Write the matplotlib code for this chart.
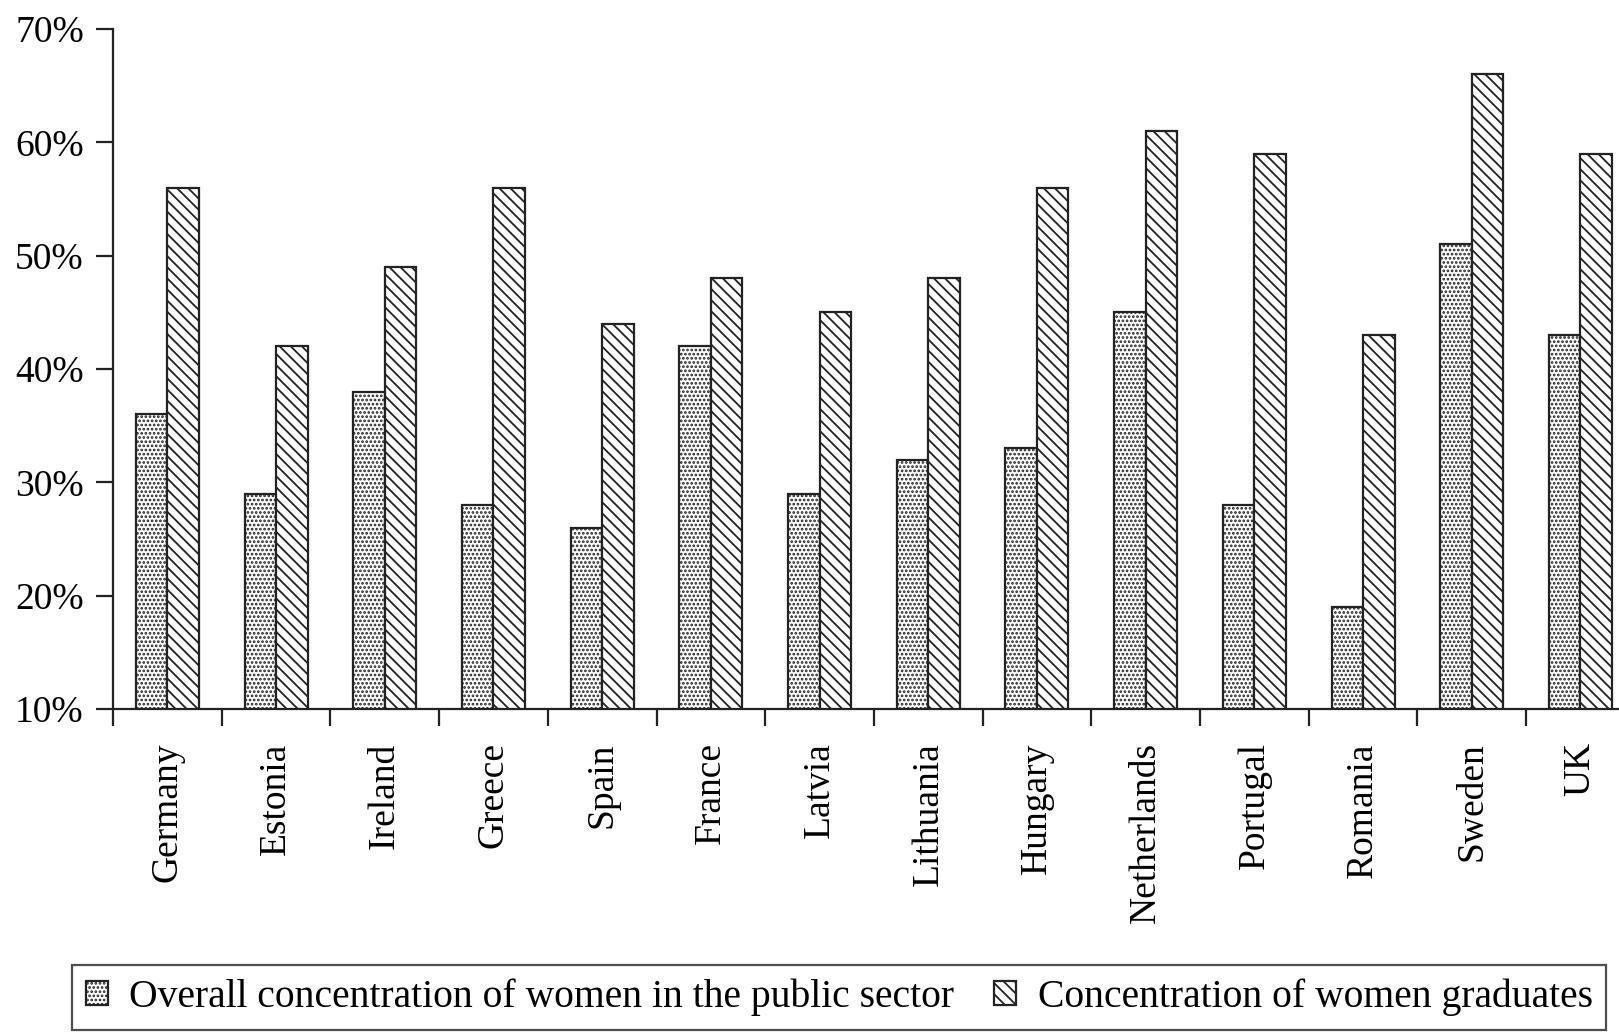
import numpy as np
import matplotlib
matplotlib.use('Agg')
import matplotlib.pyplot as plt
from matplotlib.ticker import FuncFormatter

# データ
countries = ['Germany', 'Estonia', 'Ireland', 'Greece', 'Spain', 'France', 'Latvia',
             'Lithuania', 'Hungary', 'Netherlands', 'Portugal', 'Romania', 'Sweden', 'UK']
public_sector = [36, 29, 38, 28, 26, 42, 29, 32, 33, 45, 28, 19, 51, 43]
graduates = [56, 42, 49, 56, 44, 48, 45, 48, 56, 61, 59, 43, 66, 59]
y_ticks = [10, 20, 30, 40, 50, 60, 70]
series_names = ['Overall concentration of women in the public sector',
                'Concentration of women graduates']

plt.rcParams['font.family'] = ['Liberation Serif', 'DejaVu Serif']
plt.rcParams['hatch.linewidth'] = 1.3
plt.rcParams['hatch.color'] = 'black'

W, H = 1619, 1032
fig = plt.figure(figsize=(W / 100, H / 100), dpi=100)
# 軸の位置（右端は図の外にはみ出す）
step = 108.7
ax = fig.add_axes([113 / W, 1 - 709 / H, 14 * step / W, (709 - 29) / H])

x = np.arange(len(countries))
bw = 0.29
b1 = ax.bar(x - bw / 2, public_sector, bw, color='white', edgecolor='#222222',
            linewidth=1.6, hatch='....')
b2 = ax.bar(x + bw / 2, graduates, bw, color='white', edgecolor='#222222',
            linewidth=1.6, hatch='\\\\\\')

ax.set_ylim(10, 70)
ax.set_xlim(-0.5, len(countries) - 0.5)
ax.set_yticks(y_ticks)
ax.yaxis.set_major_formatter(FuncFormatter(lambda v, p: f'{v:.0f}%'))

# 目盛り：カテゴリの境界に小目盛り、中央にラベル
ax.set_xticks(x)
ax.set_xticklabels(countries, rotation=90, va='top', ha='center')
ax.set_xticks(np.arange(len(countries)) - 0.5, minor=True)
ax.tick_params(axis='x', which='major', length=0, pad=24, labelsize=27)
ax.tick_params(axis='x', which='minor', length=12, width=1.6, direction='out', color='#222222')
ax.tick_params(axis='y', length=12, width=1.6, pad=9, labelsize=27, color='#222222')

for s in ['top', 'right']:
    ax.spines[s].set_visible(False)
for s in ['left', 'bottom']:
    ax.spines[s].set_linewidth(1.6)
    ax.spines[s].set_color('#222222')

# 凡例
leg = fig.legend([b1, b2], series_names, ncol=2, loc='lower left',
                 bbox_to_anchor=(72 / W, 2 / H), fontsize=28.5, frameon=True,
                 fancybox=False, edgecolor='#222222', handlelength=0.55,
                 handleheight=0.55, handletextpad=0.55, columnspacing=1.0,
                 borderpad=0.35, borderaxespad=0)
leg.get_frame().set_linewidth(1.6)

fig.savefig('out.png', dpi=100)
